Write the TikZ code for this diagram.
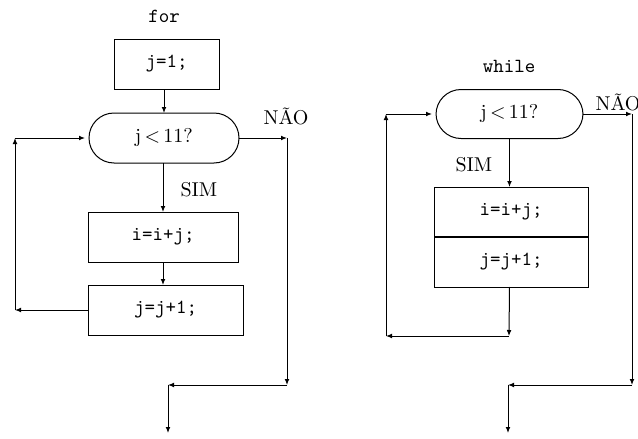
\documentclass[tikz,border=0pt]{standalone}
\usepackage{fontspec}
\usetikzlibrary{arrows.meta}
\newcommand{\jtest}{$\thickmuskip=3mu\mathrm{j}<\mathrm{11?}$}
\begin{document}
\begin{tikzpicture}[x=0.5pt,y=-0.5pt,line width=0.5pt,
  flow/.style={-{Latex[length=3pt,width=2.4pt]}},
  stmt/.style={draw,inner sep=0pt,outer sep=0pt,minimum height=25pt,font=\ttfamily},
  test/.style={draw,rounded corners=12.5pt,inner sep=0pt,outer sep=0pt,minimum height=25pt},
  lbl/.style={inner sep=0pt,anchor=base west},
  title/.style={inner sep=0pt,anchor=base,font=\ttfamily}]
\useasboundingbox (0,0) rectangle (638,439);
\clip (0,0) rectangle (638,439);

% ---- for loop ----
\node[title] (tfor) at (164,23) {for};
\node[stmt,minimum width=52.5pt] (init) at (166.5,64) {j=1;};
\node[test,minimum width=75pt] (cond) at (164,138) {\jtest};
\node[stmt,minimum width=75pt] (body) at (163,237) {i=i+j;};
\node[stmt,minimum width=77.5pt] (incr) at (165.5,310) {j=j+1;};
\node[lbl] (no1) at (263,124) {NÃO};
\node[lbl] (yes1) at (180,196) {SIM};

\coordinate (l1) at (15,310);
\coordinate (l2) at (15,138);
\coordinate (e1) at (287,138);
\coordinate (e2) at (287,385);
\coordinate (e3) at (168,385);
\coordinate (e4) at (168,433);

\draw[flow] (cond.north |- init.south) -- (cond.north);
\draw[flow] (body.north |- cond.south) -- (body.north);
\draw[flow] (body.south) -- (body.south |- incr.north);
\draw[flow] (incr.west) -- (l1);
\draw[flow] (l1) -- (l2);
\draw[flow,shorten >=2pt] (l2) -- (cond.west);
\draw[flow] (cond.east) -- (e1);
\draw[flow] (e1) -- (e2);
\draw[flow] (e2) -- (e3);
\draw[flow] (e3) -- (e4);

% ---- while loop ----
\node[title] (twhile) at (509,72) {while};
\node[test,minimum width=73.5pt,minimum height=24.5pt] (wcond) at (509.5,114) {\jtest};
\node[stmt,minimum width=77pt] (wbody) at (511,212) {i=i+j;};
\node[stmt,minimum width=77pt] (wincr) at (511,262) {j=j+1;};
\draw[line width=1pt] (wbody.south west) -- (wbody.south east);
\node[lbl] (no2) at (595,110) {NÃO};
\node[lbl] (yes2) at (455,171) {SIM};

\coordinate (w1) at (509,336);
\coordinate (w2) at (386,336);
\coordinate (w3) at (386,114);
\coordinate (x1) at (632,114);
\coordinate (x2) at (632,385);
\coordinate (x3) at (508,385);
\coordinate (x4) at (508,433);

\draw[flow] (wcond.south) -- (wcond.south |- wbody.north);
\draw[flow] (wcond.south |- wincr.south) -- (w1);
\draw[flow] (w1) -- (w2);
\draw[flow] (w2) -- (w3);
\draw[flow,shorten >=2pt] (w3) -- (wcond.west);
\draw[flow] (wcond.east) -- (x1);
\draw[flow] (x1) -- (x2);
\draw[flow] (x2) -- (x3);
\draw[flow] (x3) -- (x4);
\end{tikzpicture}
\end{document}
